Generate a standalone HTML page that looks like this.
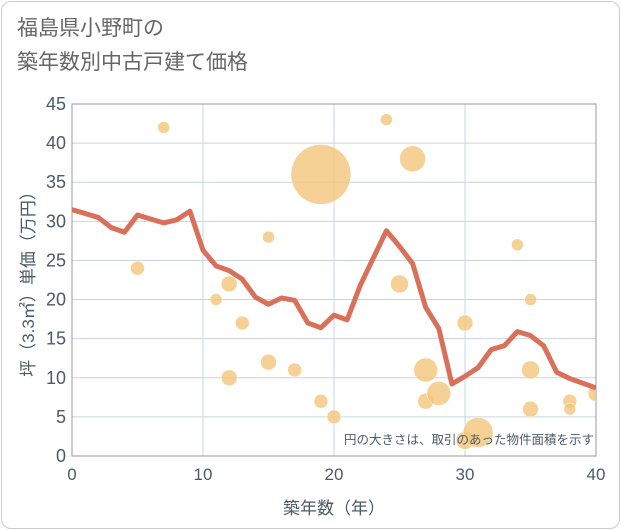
<!DOCTYPE html>
<html><head><meta charset="utf-8"><style>
body{margin:0;background:#fff;font-family:"Liberation Sans","Noto Sans CJK JP",sans-serif}
#frame{position:absolute;left:1px;top:1px;width:617px;height:526px;border:1px solid #ccc;border-radius:10px;background:#fff}
#title{position:absolute;left:17px;top:12px;font-size:21px;line-height:34px;color:#666}
</style></head><body>
<div id="frame"></div>
<div id="title">福島県小野町の<br>築年数別中古戸建て価格</div>
<svg id="c" width="621" height="530" style="position:absolute;left:0;top:0"></svg>
<script>
const lineYears=[0,1,2,3,4,5,6,7,8,9,10,11,12,13,14,15,16,17,18,19,20,21,22,23,24,25,26,27,28,29,30,31,32,33,34,35,36,37,38,39,40];
const linePrices=[31.5,31,30.5,29.2,28.6,30.8,30.3,29.8,30.2,31.3,26.3,24.3,23.7,22.6,20.3,19.4,20.2,19.9,17,16.4,18,17.4,21.8,25.3,28.8,26.8,24.6,19,16.3,9.2,10.2,11.3,13.6,14.1,15.9,15.4,14.1,10.7,9.9,9.3,8.7];
const bubbleYears=[7,5,11,12,13,12,15,15,17,19,20,19,24,26,25,27,27,28,30,30,31,34,35,35,35,38,38,40];
const bubblePrices=[42,24,20,22,17,10,28,12,11,7,5,36,43,38,22,11,7,8,17,2,3,27,20,11,6,7,6,8];
const bubbleSizes=[6,7,6,8,7,8,6,8,7,7,7,30,6,13,9,12,8,12,8,9,15,6,6,9,8,7,6,8];
const xTicks=[0,10,20,30,40];
const yTicks=[0,5,10,15,20,25,30,35,40,45];
const X0=72,X1=596,Y0=456,Y1=104;
const sx=v=>X0+(X1-X0)*v/40, sy=v=>Y0-(Y0-Y1)*v/45;
const svg=document.getElementById('c');const NS='http://www.w3.org/2000/svg';
function mk(t,a,p){const e=document.createElementNS(NS,t);for(const k in a)e.setAttribute(k,a[k]);(p||svg).appendChild(e);return e;}
const defs=mk('defs',{});const cp=mk('clipPath',{id:'pc'},defs);mk('rect',{x:X0,y:Y1,width:X1-X0,height:Y0-Y1},cp);
yTicks.forEach(v=>{const l=mk('line',{x1:X0,x2:X1,y1:sy(v),y2:sy(v),stroke:'#c8d4e3','stroke-width':1});


const t=mk('text',{x:X0-6,y:sy(v)+6,'text-anchor':'end','font-size':18,fill:'#4d5a68'});t.textContent=v;

});
xTicks.forEach(v=>{const l=mk('line',{x1:sx(v),x2:sx(v),y1:Y1,y2:Y0,stroke:'#c8d4e3','stroke-width':1});


const t=mk('text',{x:sx(v),y:Y0+24,'text-anchor':'middle','font-size':17,fill:'#4d5a68'});t.textContent=v;

});
const ax=mk('rect',{x:X0,y:Y1,width:X1-X0,height:Y0-Y1,fill:'none',stroke:'#999','stroke-width':1});


const g=mk('g',{'clip-path':'url(#pc)'});
bubbleYears.forEach((yr,i)=>{const c=mk('circle',{cx:sx(yr),cy:sy(bubblePrices[i]),r:bubbleSizes[i],fill:'#f2c57c','fill-opacity':0.8,stroke:'#fff','stroke-width':0.5},g);

});
const pl=mk('polyline',{points:lineYears.map((y,i)=>sx(y)+','+sy(linePrices[i])).join(' '),fill:'none',stroke:'#d9705a','stroke-width':5,'stroke-linejoin':'round'},g);


const note=mk('text',{x:594,y:444,'text-anchor':'end','font-size':12.5,fill:'#4d5a68'});note.textContent='円の大きさは、取引のあった物件面積を示す';


const xt=mk('text',{x:334,y:514,'text-anchor':'middle','font-size':17,fill:'#4d5a68'});xt.textContent='築年数（年）';


const yt=mk('text',{x:0,y:0,'text-anchor':'middle','font-size':17,fill:'#4d5a68',transform:'translate(34,280) rotate(-90)'});yt.textContent='坪（3.3㎡）単価（万円）';


</script>
</body></html>
